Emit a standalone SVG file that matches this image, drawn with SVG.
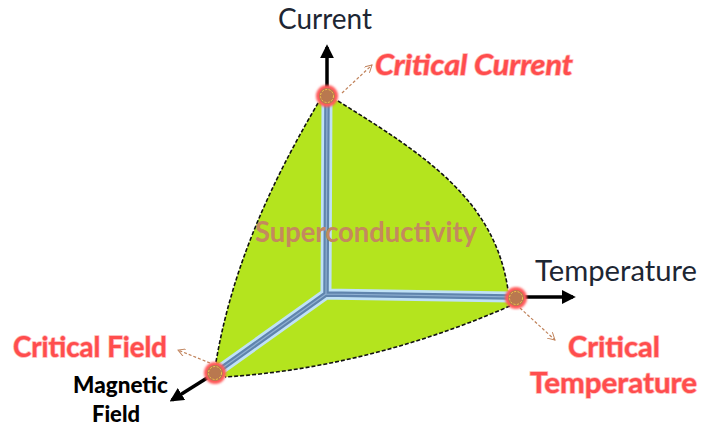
<svg xmlns="http://www.w3.org/2000/svg" width="701" height="430" viewBox="0 0 701 430">
  <style>
    .edge { fill: none; stroke: #111; stroke-width: 1.6; stroke-dasharray: 4 2; }
    .axis { stroke: #000; stroke-width: 3.5; fill: none; }
    .hint { stroke: #c0825a; stroke-width: 1.2; stroke-dasharray: 3 2; fill: none; }
    .halo { stroke: #bfe1f6; stroke-width: 11; stroke-linecap: round; fill: none; }
    .core { stroke: #5f84ad; stroke-width: 5.5; stroke-linecap: round; fill: none; }
    .shine { stroke: #8fb0d2; stroke-width: 1.2; fill: none; }
    .axisLabel { font-family: Lato, "Open Sans", sans-serif; font-size: 28px; fill: #1d2633; }
    .crit { font-family: Lato, "Open Sans", sans-serif; font-size: 29px; font-weight: bold; fill: #ff4d4d; stroke: #ffb3b3; stroke-width: 1.5; paint-order: stroke; }
    .mag { font-family: Lato, "Open Sans", sans-serif; font-size: 23px; font-weight: 900; fill: #000; }
    .sc { font-family: Lato, "Open Sans", sans-serif; font-size: 29px; font-weight: bold; fill: #c4895e; }
    .glow { fill: #ff5a5a; }
    .dot { fill: #b9784f; }
    .ring { fill: none; stroke: #f3c84a; stroke-width: 1; stroke-dasharray: 2 1.5; }
  </style>
  <defs>
    <marker id="solidHead" viewBox="0 0 10 10" refX="8" refY="5" markerWidth="4" markerHeight="4" orient="auto" markerUnits="strokeWidth">
      <path d="M0,0 L10,5 L0,10 Z" fill="#000"/>
    </marker>
    <marker id="openHead" viewBox="0 0 10 10" refX="9" refY="5" markerWidth="8" markerHeight="8" orient="auto" markerUnits="userSpaceOnUse">
      <path d="M0,0 L9,5 L0,10" fill="none" stroke="#c0825a" stroke-width="1.2"/>
    </marker>
    <filter id="soft" x="-50%" y="-50%" width="200%" height="200%">
      <feGaussianBlur stdDeviation="1"/>
    </filter>
  </defs>

  <g id="surface">
    <path d="M318,103 L327,96 L338,101 C425,155 495,200 508,290 L516,298 L510,306 Q367,368 225,377 L215,373 L216,362 C235,250 285,160 318,103 Z" fill="#b4e41e"/>
    <path class="edge" d="M338,101 C425,155 495,200 508,290"/>
    <path class="edge" d="M510,306 Q367,368 225,377"/>
    <path class="edge" d="M216,362 C235,250 285,160 318,103"/>
  </g>

  <g id="connectors">
    <line class="axis" x1="327" y1="96" x2="327" y2="47" marker-end="url(#solidHead)"/>
    <line class="axis" x1="516" y1="297" x2="573" y2="297" marker-end="url(#solidHead)"/>
    <line class="axis" x1="215" y1="373" x2="172" y2="400" marker-end="url(#solidHead)"/>
    <path class="hint" d="M342,93 L372,65" marker-end="url(#openHead)"/>
    <path class="hint" d="M520,308 L555,340" marker-end="url(#openHead)"/>
    <path class="hint" d="M210,363 L178,350" marker-end="url(#openHead)"/>
  </g>

  <g id="boundaries">
    <path class="halo" d="M327,100 L326,294 L513,297 M326,294 L218,371"/>
    <path class="core" d="M327,100 L326,294 L513,297 M326,294 L218,371"/>
    <path class="shine" d="M327,100 L326,294 L513,297 M326,294 L218,371"/>
  </g>

  <g id="critical-current-point">
    <circle class="glow" cx="327" cy="96" r="11" filter="url(#soft)"/>
    <circle class="dot" cx="327" cy="96" r="8"/>
    <circle class="ring" cx="327" cy="96" r="6.5"/>
  </g>
  <g id="critical-temperature-point">
    <circle class="glow" cx="516" cy="298" r="11" filter="url(#soft)"/>
    <circle class="dot" cx="516" cy="298" r="8"/>
    <circle class="ring" cx="516" cy="298" r="6.5"/>
  </g>
  <g id="critical-field-point">
    <circle class="glow" cx="215" cy="373" r="11" filter="url(#soft)"/>
    <circle class="dot" cx="215" cy="373" r="8"/>
    <circle class="ring" cx="215" cy="373" r="6.5"/>
  </g>

  <g id="labels">
    <text class="axisLabel" x="278" y="29" textLength="94" lengthAdjust="spacingAndGlyphs">Current</text>
    <text class="axisLabel" x="535" y="281" textLength="162" lengthAdjust="spacingAndGlyphs">Temperature</text>
    <text class="crit" x="375" y="75" font-style="italic" font-size="28" textLength="198" lengthAdjust="spacingAndGlyphs">Critical Current</text>
    <text class="crit" x="568" y="357" textLength="92" lengthAdjust="spacingAndGlyphs">Critical</text>
    <text class="crit" x="530" y="393" textLength="167" lengthAdjust="spacingAndGlyphs">Temperature</text>
    <text class="crit" x="13" y="357" textLength="154" lengthAdjust="spacingAndGlyphs">Critical Field</text>
    <text class="mag" x="73" y="393" textLength="95" lengthAdjust="spacingAndGlyphs">Magnetic</text>
    <text class="mag" x="92" y="422" textLength="48" lengthAdjust="spacingAndGlyphs">Field</text>
    <text class="sc" x="255" y="242" textLength="222" lengthAdjust="spacingAndGlyphs">Superconductivity</text>
  </g>
</svg>
